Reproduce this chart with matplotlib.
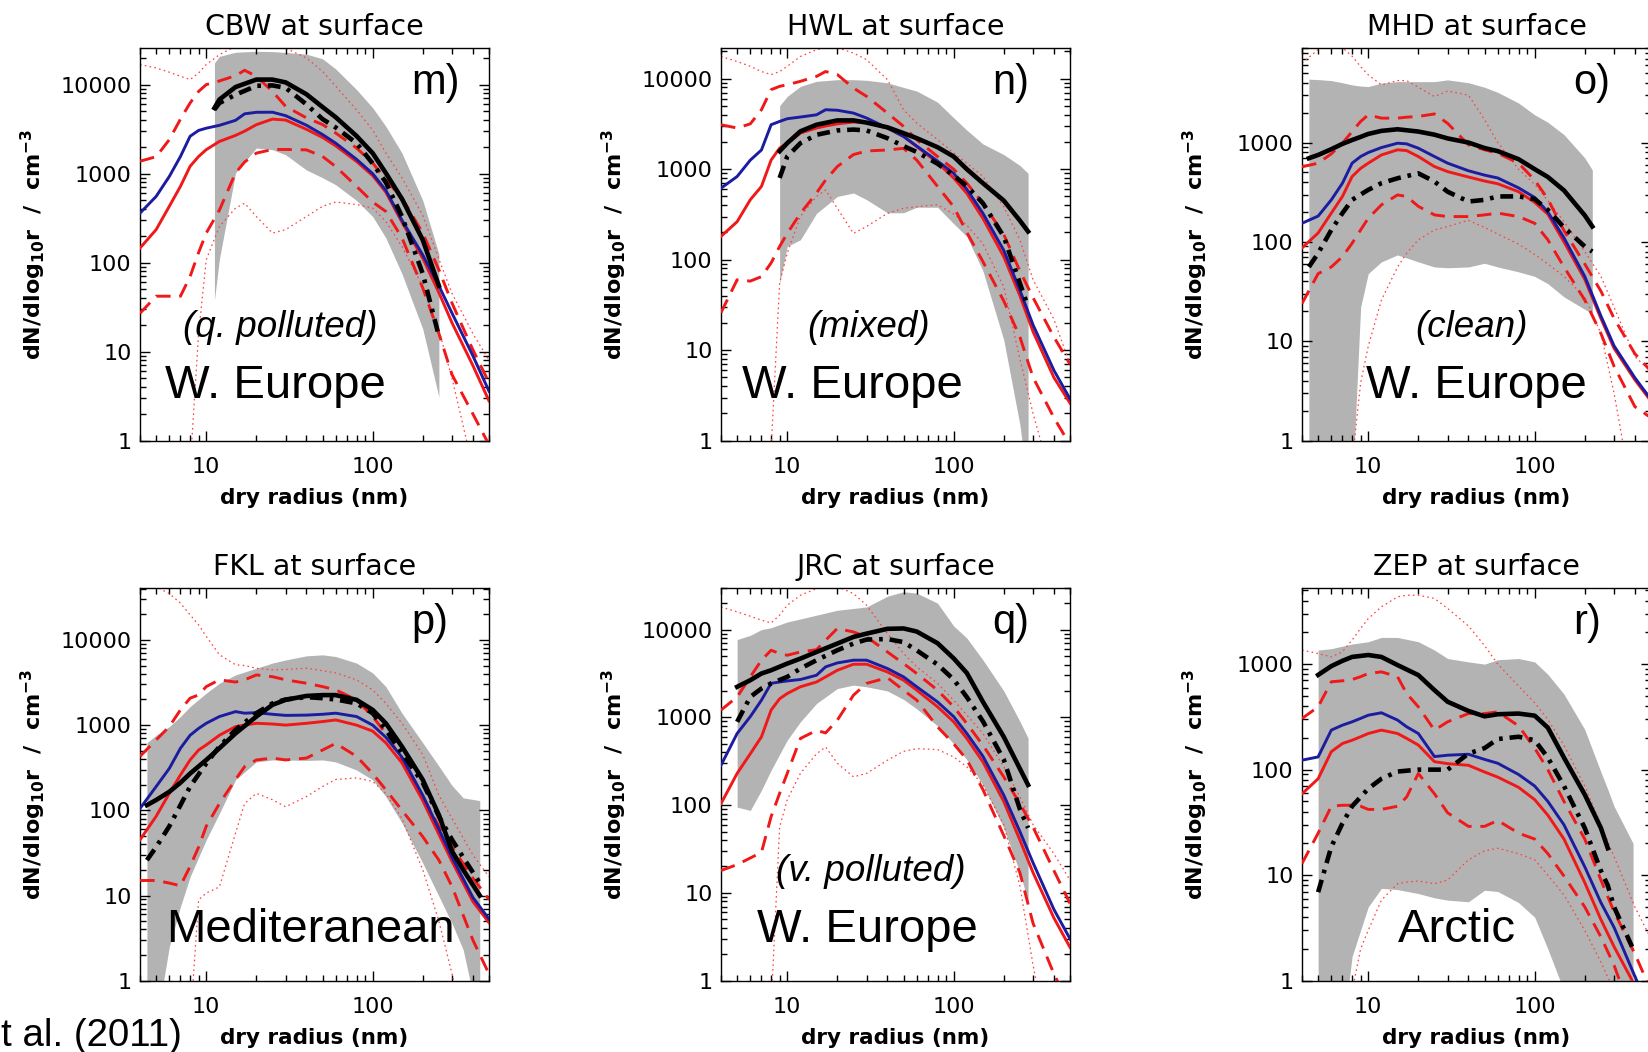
import matplotlib
matplotlib.use("Agg")
import matplotlib.pyplot as plt
import numpy as np
from matplotlib.ticker import FixedLocator, NullFormatter, FuncFormatter, LogLocator

nan = np.nan

# dry radius grid (nm) shared by the model curves
R_MODEL = [4, 5, 6, 7, 8, 9, 10, 12, 15, 17, 20, 25, 30, 40, 50, 60, 80, 100, 120, 150, 200, 250, 300, 400, 500]

# ---- CBW ----
CBW_BLUE = [360, 555, 930, 1560, 2630, 3060, 3240, 3490, 3970, 4700, 4890, 4900, 4480, 3500, 2750, 2200, 1450, 1000, 650, 300, 122, 55, 27, 9, 3.6]
CBW_RED = [146, 235, 430, 720, 1210, 1560, 1860, 2300, 2690, 3000, 3550, 4100, 4000, 3150, 2550, 2050, 1370, 950, 620, 285, 112, 46, 21, 7, 2.8]
CBW_DASH_HI = [1380, 1550, 2410, 4100, 6220, 8400, 10000, 11000, 12600, 14500, 12400, 8400, 5700, 4230, 3560, 2860, 1940, 1320, 850, 535, 215, 83, 35, 10.5, 4.5]
CBW_DASH_LO = [27, 42, 42, 42, 70, 130, 215, 390, 1020, 1350, 1700, 1870, 1870, 1850, 1560, 1200, 720, 480, 376, 190, 52, 16, 5.5, 2.0, 0.9]
CBW_DOT_HI = [16800, 15400, 13800, 12400, 11400, 13500, 16800, 21700, 27000, 29000, 29000, 28000, 25700, 19900, 14100, 9600, 5200, 3100, 1700, 900, 340, 110, 45, 16, 8]
CBW_DOT_LO = [0.1, 0.1, 0.1, 0.1, 0.5, 16, 108, 255, 410, 465, 330, 215, 235, 330, 430, 480, 450, 410, 290, 152, 54, 17.5, 5, 0.5, 0.1]
CBW_OBS_R = [11.2, 12, 15, 20, 25, 30, 40, 50, 60, 80, 100, 120, 150, 200, 250]
CBW_BLACK = [5460, 6800, 9400, 11400, 11400, 10600, 7800, 5600, 4300, 2650, 1700, 1015, 520, 180, 55]
CBW_DASHDOT = [5250, 6220, 7700, 9700, 9800, 9200, 6000, 4100, 3300, 2200, 1300, 800, 330, 75, 15]
CBW_BAND_HI = [17500, 20800, 23100, 23700, 23500, 23000, 22000, 19500, 15000, 8800, 5500, 3400, 1700, 500, 125]
CBW_BAND_LO = [38, 110, 1020, 1940, 1860, 1630, 1100, 900, 750, 500, 330, 190, 75, 18, 3.1]

# ---- HWL ----
HWL_BLUE = [617, 830, 1260, 1630, 3100, 3370, 3610, 3770, 3990, 4540, 4480, 4170, 3670, 2850, 2300, 1800, 1230, 900, 600, 325, 127, 46, 19, 6, 2.9]
HWL_RED = [181, 263, 460, 645, 1260, 1710, 1940, 2510, 2850, 3000, 3170, 3320, 3270, 2850, 2300, 1780, 1180, 800, 540, 285, 108, 40, 16, 5, 2.6]
HWL_DASH_HI = [3100, 2850, 3170, 4540, 7560, 8230, 8580, 9350, 10600, 12000, 11100, 7880, 6370, 4170, 2970, 2120, 1380, 1000, 700, 420, 190, 75, 38, 14, 7]
HWL_DASH_LO = [26, 60, 58, 65, 92, 140, 195, 325, 546, 760, 1070, 1450, 1590, 1630, 1700, 1260, 645, 385, 200, 95, 35, 14, 5, 1.8, 0.9]
HWL_DOT_HI = [17600, 15500, 13700, 12000, 11100, 12000, 13700, 17600, 20900, 22000, 22000, 19200, 16200, 9750, 4540, 3230, 2120, 1510, 1160, 830, 385, 166, 60, 22, 7]
HWL_DOT_LO = [0.1, 0.1, 0.1, 0.1, 0.8, 55, 118, 300, 500, 590, 370, 195, 233, 325, 370, 385, 405, 320, 240, 150, 50, 8, 2, 0.3, 0.1]
HWL_OBS_R = [9, 10, 12, 15, 20, 25, 30, 40, 50, 60, 80, 100, 120, 150, 200, 250, 280]
HWL_BLACK = [1580, 1940, 2620, 3100, 3460, 3460, 3270, 2900, 2500, 2200, 1750, 1380, 1000, 700, 450, 270, 205]
HWL_DASHDOT = [800, 1380, 1940, 2400, 2680, 2740, 2680, 2200, 1800, 1550, 1150, 850, 650, 420, 180, 55, 30]
HWL_BAND_HI = [5030, 6370, 8230, 9350, 9750, 9750, 9600, 9000, 8000, 7300, 5500, 3700, 2700, 1900, 1450, 1100, 900]
HWL_BAND_LO = [55, 140, 166, 325, 500, 546, 460, 330, 330, 380, 380, 250, 180, 75, 13, 1.5, 0.3]

# ---- MHD ----
MHD_BLUE = [154, 182, 265, 390, 620, 723, 793, 890, 985, 970, 877, 723, 620, 520, 470, 440, 350, 280, 200, 110, 45, 18, 9, 4.3, 2.6]
MHD_RED = [87, 123, 195, 287, 455, 550, 620, 750, 845, 830, 723, 573, 510, 450, 410, 385, 320, 250, 190, 100, 42, 17, 8.5, 4.1, 2.5]
MHD_DASH_HI = [570, 620, 770, 985, 1290, 1630, 1900, 1760, 1760, 1800, 1830, 1940, 1560, 950, 845, 780, 620, 420, 270, 130, 60, 32, 17, 7.5, 5]
MHD_DASH_LO = [24, 48, 56, 71, 97, 132, 173, 236, 297, 287, 228, 187, 180, 180, 187, 195, 180, 154, 105, 56, 26, 12, 5.6, 2.2, 1.7]
MHD_DOT_HI = [6300, 8600, 9500, 9000, 7400, 5800, 4800, 3800, 4200, 4200, 3600, 2900, 3300, 3000, 1700, 1000, 540, 380, 260, 160, 80, 45, 22, 7, 5]
MHD_DOT_LO = [0.1, 0.1, 0.1, 0.1, 0.6, 3.8, 8.9, 26, 56, 77, 105, 132, 143, 165, 140, 120, 95, 75, 60, 45, 28, 12, 3, 0.2, 0.1]
MHD_OBS_R = [4.4, 5, 6, 7, 8, 9, 10, 12, 15, 20, 25, 30, 40, 50, 60, 80, 100, 120, 150, 200, 222]
MHD_BLACK = [695, 750, 857, 970, 1060, 1140, 1220, 1310, 1360, 1290, 1200, 1100, 1000, 880, 820, 680, 540, 450, 330, 185, 143]
MHD_DASHDOT = [56, 77, 132, 195, 265, 300, 334, 390, 437, 490, 405, 320, 255, 265, 287, 287, 270, 210, 140, 90, 80]
MHD_BAND_HI = [4340, 4300, 4200, 4000, 3800, 3700, 3660, 3960, 4100, 4100, 4100, 4270, 4000, 3600, 3200, 2500, 1900, 1600, 1200, 700, 530]
MHD_BAND_LO = [0.3, 0.3, 0.3, 0.3, 0.3, 22, 48, 63, 74, 63, 56, 55, 56, 61, 56, 50, 45, 38, 28, 21, 19]

# ---- FKL ----
FKL_BLUE = [105, 190, 310, 535, 760, 915, 1050, 1260, 1440, 1380, 1400, 1340, 1300, 1310, 1340, 1380, 1260, 1000, 720, 420, 150, 60, 28, 9.5, 5.3]
FKL_RED = [45, 85, 158, 260, 390, 510, 585, 760, 960, 1000, 1050, 1030, 1000, 1050, 1100, 1150, 1000, 850, 620, 360, 130, 52, 25, 8.5, 4.8]
FKL_DASH_HI = [430, 670, 960, 1510, 2070, 2260, 2830, 3400, 3200, 3400, 3880, 3700, 3400, 3100, 2830, 2590, 1980, 1260, 800, 390, 145, 65, 37, 16, 9]
FKL_DASH_LO = [15, 15, 14, 13, 22, 37, 65, 120, 230, 325, 390, 410, 390, 410, 510, 610, 430, 270, 174, 100, 49, 26, 12.7, 3, 1.2]
FKL_DOT_HI = [42000, 42000, 35000, 27000, 19700, 15000, 11000, 6700, 5100, 5000, 4650, 4450, 4500, 4650, 4350, 4100, 3400, 2590, 1800, 1050, 450, 150, 80, 30, 16.6]
FKL_DOT_LO = [0.1, 0.1, 0.1, 0.1, 0.3, 8.9, 10.7, 12.6, 54, 120, 158, 133, 110, 145, 190, 230, 240, 218, 158, 80, 20, 5, 1.2, 0.1, 0.1]
FKL_OBS_R = [4.4, 5, 6, 7, 8, 10, 12, 15, 20, 25, 30, 40, 50, 60, 80, 100, 120, 150, 200, 250, 300, 350, 440]
FKL_BLACK = [115, 132, 165, 211, 270, 390, 535, 800, 1260, 1730, 1980, 2200, 2250, 2250, 1980, 1510, 1050, 560, 228, 88, 33, 20, 10]
FKL_DASHDOT = [26, 37, 65, 115, 190, 355, 560, 880, 1380, 1800, 2000, 2130, 2070, 2000, 1800, 1380, 880, 470, 210, 85, 45, 28, 14]
FKL_BAND_HI = [620, 760, 960, 1260, 1650, 2370, 3100, 3880, 4650, 5350, 5820, 6500, 6680, 6380, 5350, 4100, 2830, 1380, 620, 330, 195, 140, 130]
FKL_BAND_LO = [0.3, 0.3, 2.5, 7.4, 16.6, 45, 92, 228, 370, 390, 390, 385, 390, 370, 297, 228, 145, 71, 24, 9.8, 4.7, 2.3, 0.3]

# ---- JRC ----
JRC_BLUE = [285, 655, 1020, 1570, 2440, 2530, 2600, 2700, 3020, 3760, 4170, 4480, 4480, 3600, 2890, 2230, 1500, 1020, 655, 360, 130, 50, 22, 6.5, 3]
JRC_RED = [104, 230, 385, 600, 1210, 1630, 1870, 2230, 2530, 2890, 3440, 4030, 4030, 3290, 2650, 2040, 1320, 890, 575, 310, 110, 40, 17, 5.2, 2.4]
JRC_DASH_HI = [1210, 1710, 2890, 4480, 5820, 5330, 5100, 5560, 5900, 7560, 10300, 9400, 8250, 5560, 4100, 3160, 2040, 1320, 850, 480, 210, 104, 56, 18, 7.6]
JRC_DASH_LO = [18, 21, 25, 29, 74, 136, 230, 575, 710, 665, 930, 1790, 2440, 2830, 2040, 1570, 780, 500, 330, 150, 45, 17, 4.5, 1.2, 0.5]
JRC_DOT_HI = [18100, 15900, 14200, 12800, 11900, 14600, 18900, 24600, 29300, 31000, 31000, 25700, 18900, 9000, 5330, 3770, 2440, 1570, 1060, 655, 273, 124, 60, 28, 14]
JRC_DOT_LO = [0.1, 0.1, 0.1, 0.1, 0.5, 56, 115, 230, 385, 460, 300, 210, 230, 325, 410, 440, 430, 355, 273, 170, 60, 12, 1.5, 0.1, 0.1]
JRC_OBS_R = [5, 6, 7, 8, 10, 12, 15, 20, 25, 30, 40, 50, 60, 80, 100, 120, 150, 200, 250, 280]
JRC_BLACK = [2230, 2650, 3160, 3440, 4100, 4670, 5560, 6930, 8250, 9000, 10200, 10300, 9500, 7000, 4700, 3200, 1500, 600, 260, 170]
JRC_DASHDOT = [890, 1710, 2130, 2440, 2890, 3600, 4480, 5820, 6930, 7700, 7800, 7200, 5800, 4000, 2700, 1700, 900, 330, 90, 55]
JRC_BAND_HI = [7700, 8600, 10000, 10500, 12200, 13200, 14600, 16600, 17400, 18100, 24000, 27000, 26000, 20000, 11000, 8000, 4500, 2000, 900, 580]
JRC_BAND_LO = [95, 87, 148, 250, 550, 890, 1440, 2130, 2330, 2230, 2000, 1600, 1250, 800, 500, 330, 170, 55, 17, 8]

# ---- ZEP ----
ZEP_BLUE = [123, 132, 237, 264, 284, 306, 328, 346, 295, 255, 220, 133, 137, 140, 125, 115, 90, 70, 50, 30, 12, 5.5, 3.2, 1.1, 0.5]
ZEP_RED = [59, 82, 148, 177, 190, 205, 220, 237, 220, 198, 171, 119, 114, 110, 95, 85, 68, 52, 37, 22, 8.5, 3.8, 2.1, 0.9, 0.4]
ZEP_DASH_HI = [305, 394, 680, 695, 715, 760, 815, 845, 760, 527, 394, 237, 284, 340, 340, 353, 260, 160, 100, 50, 22, 9, 4.5, 1.8, 0.8]
ZEP_DASH_LO = [12.9, 25, 45, 46, 46, 45, 42, 42, 45, 55, 92, 59, 39, 29, 29, 33, 25, 22, 16, 9.8, 5, 2.6, 1.4, 0.4, 0.2]
ZEP_DOT_HI = [1360, 1260, 1170, 1310, 1690, 2180, 2700, 3490, 4340, 4500, 4500, 4190, 3370, 2300, 1500, 1000, 620, 430, 300, 170, 70, 30, 15, 5, 2.5]
ZEP_DOT_LO = [0.1, 0.1, 0.1, 0.1, 0.8, 2.0, 3.0, 5.8, 8.3, 8.6, 8.8, 8.3, 9, 14, 17, 18, 16, 14, 10, 6.5, 3, 1.5, 0.8, 0.1, 0.1]
ZEP_OBS_R = [5, 6, 7, 8, 10, 12, 15, 20, 25, 30, 40, 50, 60, 80, 100, 120, 150, 200, 250, 275, 300, 390]
ZEP_BLACK = [790, 957, 1075, 1170, 1220, 1170, 980, 787, 567, 440, 360, 320, 335, 340, 325, 250, 130, 58, 28, 18, nan, nan]
ZEP_DASHDOT = [6.9, 18.6, 31, 45, 66, 82, 96, 100, 100, 100, 142, 160, 195, 205, 190, 130, 70, 28, 11, 8, 5, 2]
ZEP_BAND_HI = [1360, 1400, 1480, 1550, 1630, 1790, 1790, 1630, 1360, 1130, 1050, 1000, 1100, 1130, 1050, 800, 520, 240, 95, 65, 45, 20]
ZEP_BAND_LO = [0.3, 0.3, 0.3, 1.7, 5, 7.5, 7.3, 6.7, 6.1, 5.8, 5.6, 7.2, 7, 5.5, 4, 2, 0.8, 0.3, 0.3, 0.3, 0.3, 0.3]

STATIONS = ["CBW", "HWL", "MHD", "FKL", "JRC", "ZEP"]
LETTERS = ["m)", "n)", "o)", "p)", "q)", "r)"]
REGIONS = ["W. Europe", "W. Europe", "W. Europe", "Mediteranean", "W. Europe", "Arctic"]
SUBTITLES = ["(q. polluted)", "(mixed)", "(clean)", None, "(v. polluted)", None]
Y_TOPS = [26000, 22000, 9000, 41000, 30000, 5300]

W, H = 1648, 1052
fig = plt.figure(figsize=(W / 100, H / 100), dpi=100)

GRAY = "#b3b3b3"
BLUE = "#1c1ca0"
RED = "#f01818"
DOT_RED = "#ff4040"

panels = [
    (CBW_OBS_R, CBW_BAND_LO, CBW_BAND_HI, CBW_BLACK, CBW_DASHDOT, CBW_BLUE, CBW_RED,
     CBW_DASH_HI, CBW_DASH_LO, CBW_DOT_HI, CBW_DOT_LO),
    (HWL_OBS_R, HWL_BAND_LO, HWL_BAND_HI, HWL_BLACK, HWL_DASHDOT, HWL_BLUE, HWL_RED,
     HWL_DASH_HI, HWL_DASH_LO, HWL_DOT_HI, HWL_DOT_LO),
    (MHD_OBS_R, MHD_BAND_LO, MHD_BAND_HI, MHD_BLACK, MHD_DASHDOT, MHD_BLUE, MHD_RED,
     MHD_DASH_HI, MHD_DASH_LO, MHD_DOT_HI, MHD_DOT_LO),
    (FKL_OBS_R, FKL_BAND_LO, FKL_BAND_HI, FKL_BLACK, FKL_DASHDOT, FKL_BLUE, FKL_RED,
     FKL_DASH_HI, FKL_DASH_LO, FKL_DOT_HI, FKL_DOT_LO),
    (JRC_OBS_R, JRC_BAND_LO, JRC_BAND_HI, JRC_BLACK, JRC_DASHDOT, JRC_BLUE, JRC_RED,
     JRC_DASH_HI, JRC_DASH_LO, JRC_DOT_HI, JRC_DOT_LO),
    (ZEP_OBS_R, ZEP_BAND_LO, ZEP_BAND_HI, ZEP_BLACK, ZEP_DASHDOT, ZEP_BLUE, ZEP_RED,
     ZEP_DASH_HI, ZEP_DASH_LO, ZEP_DOT_HI, ZEP_DOT_LO),
]

# pixel layout of the 2x3 grid (right column runs slightly off the page)
lefts = [140, 721, 1302]
tops = [47.7, 587.7]
AX_W, AX_H = 349, 393

region_x = [0.072, 0.06, 0.183, 0.074, 0.103, 0.275]
sub_x = [0.402, 0.422, 0.487, None, 0.43, None]

minor_x = [4, 5, 6, 7, 8, 9, 20, 30, 40, 50, 60, 70, 80, 90, 200, 300, 400, 500]
fmt = FuncFormatter(lambda v, p: f"{v:g}")

for i, data in enumerate(panels):
    obs_r, band_lo, band_hi, black, dashdot, blue, red, d_hi, d_lo, o_hi, o_lo = data
    row, col = divmod(i, 3)
    left, top = lefts[col], tops[row]
    ax = fig.add_axes([left / W, 1 - (top + AX_H) / H, AX_W / W, AX_H / H])

    ax.fill_between(obs_r, band_lo, band_hi, color=GRAY, lw=0, zorder=1)
    for ys in (o_hi, o_lo):
        ax.plot(R_MODEL, ys, color=DOT_RED, lw=0.9, dashes=(1.3, 2.6), zorder=2)
    for ys in (d_hi, d_lo):
        ax.plot(R_MODEL, ys, color=RED, lw=2.1, dashes=(5, 3), zorder=3)
    ax.plot(R_MODEL, red, color=RED, lw=2.1, zorder=4)
    ax.plot(R_MODEL, blue, color=BLUE, lw=2.1, zorder=5)
    ax.plot(obs_r, dashdot, color="black", lw=3.3, dashes=(2.8, 1.5, 0.8, 1.5), zorder=6)
    ax.plot(obs_r, black, color="black", lw=3.3, zorder=7)

    ax.set_xscale("log")
    ax.set_yscale("log")
    ax.set_xlim(4, 500)
    ax.set_ylim(1, Y_TOPS[i])

    ax.xaxis.set_major_locator(FixedLocator([10, 100]))
    ax.xaxis.set_minor_locator(FixedLocator(minor_x))
    ax.xaxis.set_major_formatter(fmt)
    ax.xaxis.set_minor_formatter(NullFormatter())
    ax.yaxis.set_major_locator(FixedLocator([1, 10, 100, 1000, 10000]))
    ax.yaxis.set_minor_locator(LogLocator(base=10, subs=range(2, 10), numticks=20))
    ax.yaxis.set_major_formatter(fmt)
    ax.yaxis.set_minor_formatter(NullFormatter())
    ax.tick_params(which="both", direction="in", top=True, right=True, width=1.0, labelsize=16)
    ax.tick_params(which="major", length=7)
    ax.tick_params(which="minor", length=4)
    ax.tick_params(axis="x", pad=12)
    ax.tick_params(axis="y", pad=6)
    for s in ax.spines.values():
        s.set_linewidth(1.0)

    ax.set_title(f"{STATIONS[i]} at surface", fontsize=20.5, pad=9)
    ax.set_xlabel("dry radius (nm)", fontsize=15.5, fontweight="bold", labelpad=8)
    ax.set_ylabel(r"dN/dlog$_{\mathbf{10}}$r  /  cm$^{\mathbf{-3}}$", fontsize=16, fontweight="bold")
    ax.yaxis.set_label_coords(-0.265, 0.5)

    ax.text(0.778, 0.91, LETTERS[i], transform=ax.transAxes, fontsize=30,
            family="Liberation Sans", ha="left", va="center")
    base_y = 0.108 if row == 0 else 0.098
    ax.text(region_x[i], base_y, REGIONS[i], transform=ax.transAxes, fontsize=34,
            family="Liberation Sans", ha="left", va="baseline", zorder=10)
    if SUBTITLES[i]:
        sub_y = 0.287 if row == 0 else 0.277
        ax.text(sub_x[i], sub_y, SUBTITLES[i], transform=ax.transAxes, fontsize=26.5,
                family="Liberation Sans", style="italic", ha="center", va="center", zorder=10)

fig.text(1 / W, 1 - 1036 / H, "t al. (2011)", fontsize=27.7, family="Liberation Sans",
         ha="left", va="center")

fig.savefig("out.png", dpi=100)
